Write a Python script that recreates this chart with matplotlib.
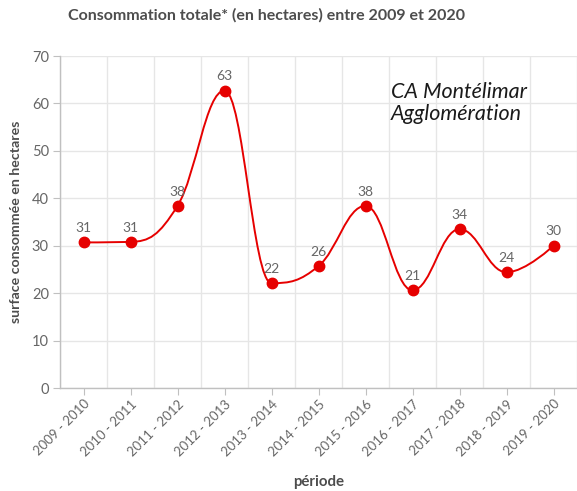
import matplotlib
matplotlib.use("Agg")
import matplotlib.pyplot as plt
from matplotlib.path import Path
from matplotlib.patches import PathPatch
import numpy as np

categories = ["2009 - 2010", "2010 - 2011", "2011 - 2012", "2012 - 2013", "2013 - 2014",
              "2014 - 2015", "2015 - 2016", "2016 - 2017", "2017 - 2018", "2018 - 2019",
              "2019 - 2020"]
values = [30.7, 30.8, 38.4, 62.7, 22.1, 25.7, 38.4, 20.6, 33.5, 24.4, 30.0]
yticks = [0, 10, 20, 30, 40, 50, 60, 70]

title = "Consommation totale* (en hectares) entre 2009 et 2020"
ylabel = "surface consommée en hectares"
xlabel = "période"
annotation = "CA Montélimar\nAgglomération"

RED = "#e60000"
GRAY = "#666666"
DARK = "#4d4d4d"

plt.rcParams['font.family'] = ['Lato', 'DejaVu Sans']

fig = plt.figure(figsize=(5.77, 4.91), dpi=100)
ax = fig.add_axes([60/577, 103/491, 517/577, 332/491])

x = np.arange(len(values), dtype=float)
y = np.array(values, dtype=float)

# Highcharts-like spline
def spline_path(xs, ys):
    n = len(xs)
    sm = 1.5
    den = sm + 1
    rc = [None] * n
    lc = [None] * n
    for i in range(1, n - 1):
        px, py = xs[i], ys[i]
        lx, ly = xs[i-1], ys[i-1]
        nx, ny = xs[i+1], ys[i+1]
        lcx = (sm*px + lx)/den
        lcy = (sm*py + ly)/den
        rcx = (sm*px + nx)/den
        rcy = (sm*py + ny)/den
        if rcx != lcx:
            corr = ((rcy - lcy)*(rcx - px))/(rcx - lcx) + py - rcy
            lcy += corr
            rcy += corr
        if lcy > ly and lcy > py:
            lcy = max(ly, py); rcy = 2*py - lcy
        elif lcy < ly and lcy < py:
            lcy = min(ly, py); rcy = 2*py - lcy
        if rcy > ny and rcy > py:
            rcy = max(ny, py); lcy = 2*py - rcy
        elif rcy < ny and rcy < py:
            rcy = min(ny, py); lcy = 2*py - rcy
        lc[i] = (lcx, lcy)
        rc[i] = (rcx, rcy)
    verts = [(xs[0], ys[0])]
    codes = [Path.MOVETO]
    for i in range(1, n):
        c1 = rc[i-1] if rc[i-1] is not None else (xs[i-1], ys[i-1])
        c2 = lc[i] if lc[i] is not None else (xs[i], ys[i])
        verts += [c1, c2, (xs[i], ys[i])]
        codes += [Path.CURVE4]*3
    return Path(verts, codes)

ax.add_patch(PathPatch(spline_path(x, y), facecolor='none', edgecolor=RED, lw=1.4, zorder=3))
ax.plot(x, y, 'o', color=RED, markersize=7.5, zorder=4)

for xi, yi in zip(x, y):
    ax.annotate(f"{int(yi + 0.5):d}", (xi, yi), xytext=(0, 6), textcoords='offset points',
                ha='center', va='bottom', fontsize=10, color=GRAY, zorder=5)

ax.set_xlim(-0.5, len(values) - 0.5)
ax.set_ylim(0, 70)
ax.set_yticks(yticks)
ax.set_xticks(x)
ax.set_xticklabels(categories, rotation=45, ha='right', rotation_mode='anchor',
                   fontsize=9.5, color=GRAY)
ax.tick_params(axis='x', length=5, color='#c0c0c0', pad=2)
ax.tick_params(axis='y', length=5, color='#c0c0c0', labelsize=10.5, labelcolor=GRAY, pad=3)

ax.set_xticks(np.arange(len(values) + 1) - 0.5, minor=True)
ax.tick_params(axis='x', which='minor', length=0)
ax.grid(True, axis='x', which='minor', color='#e6e6e6', lw=1)
ax.grid(True, axis='y', which='major', color='#e6e6e6', lw=1)
ax.set_axisbelow(True)

for s in ['top', 'right']:
    ax.spines[s].set_visible(False)
for s in ['left', 'bottom']:
    ax.spines[s].set_color('#c0c0c0')
    ax.spines[s].set_linewidth(1)

ax.set_ylabel(ylabel, fontsize=10.2, fontweight='bold', color=DARK, labelpad=7)
ax.set_xlabel(xlabel, fontsize=10.8, fontweight='bold', color=DARK, labelpad=12)

fig.text(267/577, 1 - 15/491, title, ha='center', va='center', fontsize=11.5,
         fontweight='bold', color=DARK)

fig.text(391/577, 1 - 103/491, annotation, ha='left', va='center', fontsize=15.5,
         style='italic', color='#1a1a1a', linespacing=1.15)

fig.savefig("out.png", dpi=100)
